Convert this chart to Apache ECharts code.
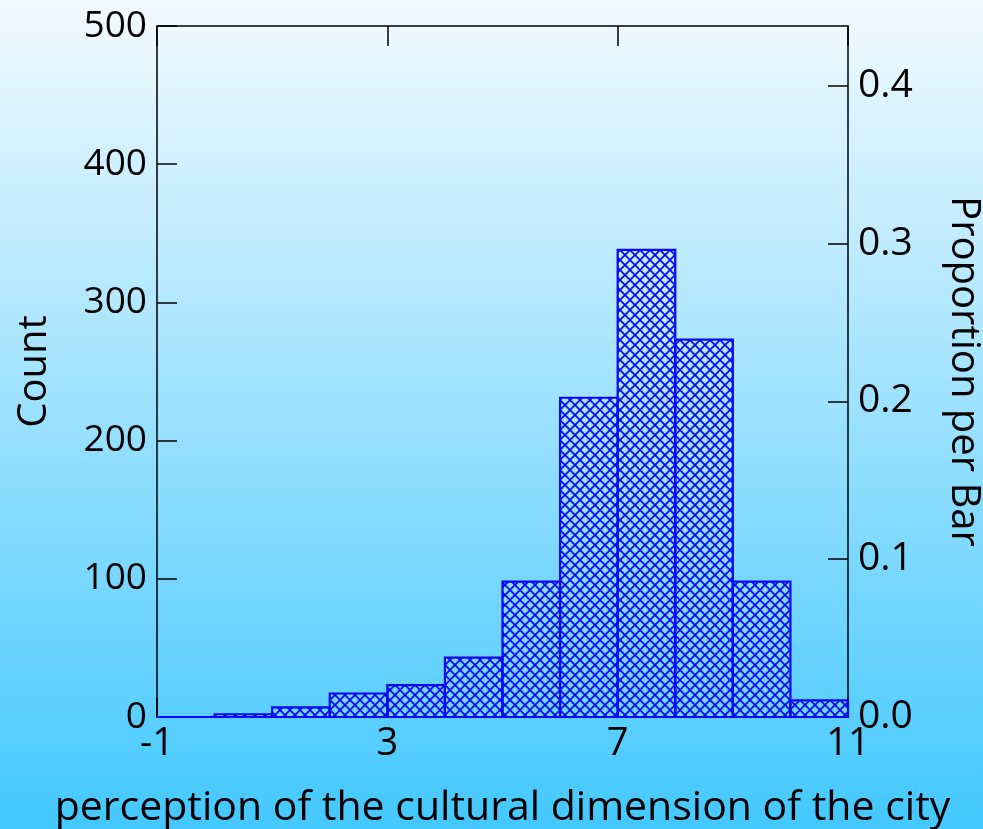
<!DOCTYPE html>
<html>
<head>
<meta charset="utf-8">
<script src="https://cdn.jsdelivr.net/npm/echarts@6/dist/echarts.min.js"></script>
<style>
  html, body { margin: 0; padding: 0; }
  #chart { width: 983px; height: 829px; }
</style>
</head>
<body>
<div id="chart"></div>
<script>
// Histogram bins: left edges, unit width
const binStarts = [-1, 0, 1, 2, 3, 4, 5, 6, 7, 8, 9, 10];
const binWidth = 1;
const counts = [0, 2, 7, 17, 23, 43, 98, 231, 338, 273, 98, 12];

const xTicks = [-1, 3, 7, 11];
const countTicks = [0, 100, 200, 300, 400, 500];
const propTicks = [0.0, 0.1, 0.2, 0.3, 0.4];

const total = counts.reduce((a, b) => a + b, 0);
const countMax = 500;

const FONT = 'Open Sans';
const INK = '#000000';
const BAR_BLUE = '#0808f4';

// Cross-hatch fill pattern
function hatchPattern() {
  const s = 10;
  const c = document.createElement('canvas');
  c.width = s; c.height = s;
  const g = c.getContext('2d');
  g.fillStyle = 'rgba(255,255,255,0.12)';
  g.fillRect(0, 0, s, s);
  g.strokeStyle = BAR_BLUE;
  g.lineWidth = 1.7;
  for (const off of [-s, 0, s]) {
    g.beginPath(); g.moveTo(off, 0); g.lineTo(off + s, s); g.stroke();
    g.beginPath(); g.moveTo(off + s, 0); g.lineTo(off, s); g.stroke();
  }
  return c;
}

const chart = echarts.init(document.getElementById('chart'), null, { renderer: 'canvas' });
const pattern = { image: hatchPattern(), repeat: 'repeat' };

const option = {
  animation: false,
  backgroundColor: new echarts.graphic.LinearGradient(0, 0, 0, 1, [
    { offset: 0, color: '#f3faff' },
    { offset: 1, color: '#43c8ff' }
  ]),
  grid: { left: 157, right: 135, top: 26, bottom: 112, containLabel: false, outerBoundsMode: 'none' },
  xAxis: [
    {
      type: 'value', min: -1, max: 11, position: 'bottom',
      name: 'perception of the cultural dimension of the city',
      nameLocation: 'middle', nameGap: 71,
      nameTextStyle: { fontFamily: FONT, fontSize: 41, color: INK },
      axisLine: { show: true, onZero: false, lineStyle: { color: INK, width: 1.5 } },
      axisTick: { show: true, inside: true, length: 20, customValues: xTicks, lineStyle: { color: INK, width: 1.5 } },
      axisLabel: { customValues: xTicks, margin: 8, fontFamily: FONT, fontSize: 38, color: INK },
      splitLine: { show: false }
    },
    {
      type: 'value', min: -1, max: 11, position: 'top',
      axisLine: { show: true, onZero: false, lineStyle: { color: INK, width: 1.5 } },
      axisTick: { show: true, inside: true, length: 20, customValues: xTicks, lineStyle: { color: INK, width: 1.5 } },
      axisLabel: { show: false },
      splitLine: { show: false }
    }
  ],
  yAxis: [
    {
      type: 'value', min: 0, max: countMax, position: 'left',
      name: 'Count', nameLocation: 'middle', nameGap: 102,
      nameTextStyle: { fontFamily: FONT, fontSize: 40, color: INK },
      axisLine: { show: true, onZero: false, lineStyle: { color: INK, width: 1.5 } },
      axisTick: { show: true, inside: true, length: 20, customValues: countTicks, lineStyle: { color: INK, width: 1.5 } },
      axisLabel: { customValues: countTicks, margin: 10, fontFamily: FONT, fontSize: 37, color: INK },
      splitLine: { show: false }
    },
    {
      type: 'value', min: 0, max: countMax / total, position: 'right',
      name: 'Proportion per Bar', nameLocation: 'middle', nameGap: 95, nameRotate: -90,
      nameTextStyle: { fontFamily: FONT, fontSize: 40, color: INK },
      axisLine: { show: true, onZero: false, lineStyle: { color: INK, width: 1.5 } },
      axisTick: { show: true, inside: true, length: 20, customValues: propTicks, lineStyle: { color: INK, width: 1.5 } },
      axisLabel: { customValues: propTicks, margin: 10, fontFamily: FONT, fontSize: 39, color: INK,
        formatter: v => v.toFixed(1) },
      splitLine: { show: false }
    }
  ],
  series: [{
    type: 'custom',
    xAxisIndex: 0, yAxisIndex: 0,
    data: binStarts.map((s, i) => [s, s + binWidth, counts[i]]),
    encode: { x: [0, 1], y: 2 },
    z: 1,
    renderItem: function (params, api) {
      const p0 = api.coord([api.value(0), api.value(2)]);
      const p1 = api.coord([api.value(1), 0]);
      return {
        type: 'rect',
        shape: { x: p0[0], y: p0[1], width: p1[0] - p0[0], height: p1[1] - p0[1] },
        style: { fill: pattern, stroke: BAR_BLUE, lineWidth: 2.2 }
      };
    }
  }]
};

chart.setOption(option);
</script>
</body>
</html>
